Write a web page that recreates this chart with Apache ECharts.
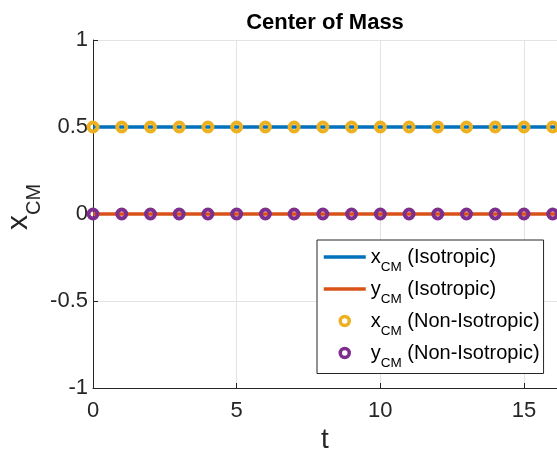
<!DOCTYPE html>
<html><head><meta charset="utf-8">
<script src="https://cdn.jsdelivr.net/npm/echarts@6/dist/echarts.min.js"></script>
<style>html,body{margin:0;padding:0;background:#fff}#c{width:557px;height:452px}</style>
</head><body><div id="c"></div>
<script>
// ---- data ----
const t      = [0,1,2,3,4,5,6,7,8,9,10,11,12,13,14,15,16,17];
const xIso   = [0.5,0.5,0.5,0.5,0.5,0.5,0.5,0.5,0.5,0.5,0.5,0.5,0.5,0.5,0.5,0.5,0.5,0.5];
const yIso   = [0,0,0,0,0,0,0,0,0,0,0,0,0,0,0,0,0,0];
const xNon   = [0.5,0.5,0.5,0.5,0.5,0.5,0.5,0.5,0.5,0.5,0.5,0.5,0.5,0.5,0.5,0.5,0.5,0.5];
const yNon   = [0,0,0,0,0,0,0,0,0,0,0,0,0,0,0,0,0,0];
const xTicks = [0,5,10,15];
const yTicks = [-1,-0.5,0,0.5,1];
const names  = ['x_CM (Isotropic)','y_CM (Isotropic)','x_CM (Non-Isotropic)','y_CM (Non-Isotropic)'];

const FONT = 'Liberation Sans, Arial, Helvetica, sans-serif';
const AX = '#262626';
const pairs = arr => t.map((v,i)=>[v, arr[i]]);

function legendFmt(name){
  const m = name.match(/^(\w)_CM(.*)$/);
  return '{n|' + m[1] + '}{s|CM}{n|' + m[2] + '}';
}
const hidden = {color:'rgba(0,0,0,0)', borderColor:'rgba(0,0,0,0)', borderWidth:0, opacity:0};

const chart = echarts.init(document.getElementById('c'), null, {renderer:'canvas'});
chart.setOption({
  animation:false,
  backgroundColor:'#fff',
  textStyle:{fontFamily:FONT},
  title:{
    text:'Center of Mass', left:320, top:7, textAlign:'center',
    textStyle:{fontFamily:FONT, fontSize:22, fontWeight:'bold', color:'#000'}
  },
  grid:{left:93, right:0, top:40, bottom:64, containLabel:false, outerBoundsMode:'none'},
  xAxis:{
    type:'value', min:0, max:16.15, interval:5,
    name:'t', nameLocation:'middle', nameGap:38, nameMoveOverlap:false,
    nameTextStyle:{fontFamily:FONT, fontSize:28, color:AX},
    axisLine:{show:true, onZero:false, lineStyle:{color:AX, width:1}},
    axisTick:{show:true, inside:true, length:5, lineStyle:{color:AX}},
    axisLabel:{fontFamily:FONT, fontSize:22, color:AX, margin:12, showMaxLabel:false,
      formatter:v => xTicks.indexOf(v) >= 0 ? String(v) : ''},
    splitLine:{show:true, lineStyle:{color:'#e3e3e3', width:1}}
  },
  yAxis:{
    type:'value', min:-1, max:1, interval:0.5,
    name:'{b|x}{s|CM}', nameLocation:'middle', nameGap:49, nameRotate:90, nameMoveOverlap:false,
    nameTextStyle:{fontFamily:FONT, color:AX, padding:[0,0,0,14],
      rich:{b:{fontFamily:FONT, fontSize:30, color:AX},
            s:{fontFamily:FONT, fontSize:20, color:AX, padding:[31,0,0,0]}}},
    axisLine:{show:true, onZero:false, lineStyle:{color:AX, width:1}},
    axisTick:{show:true, inside:true, length:5, lineStyle:{color:AX}},
    axisLabel:{fontFamily:FONT, fontSize:22, color:AX, margin:5,
      formatter:v => yTicks.indexOf(v) >= 0 ? String(v) : ''},
    splitLine:{show:true, lineStyle:{color:'#e3e3e3', width:1}}
  },
  legend:{
    orient:'vertical', left:317, top:240,
    itemWidth:42, itemHeight:9, itemGap:4.5,
    padding:[7,4,3,5],
    borderColor:AX, borderWidth:1, backgroundColor:'#fff',
    formatter:legendFmt,
    textStyle:{fontFamily:FONT, fontSize:20, color:'#000',
      rich:{n:{fontFamily:FONT, fontSize:20, color:'#000'},
            s:{fontFamily:FONT, fontSize:13.5, color:'#000', padding:[21,0,0,0]}}},
    data:[
      {name:names[0], lineStyle:{width:3.5}, itemStyle:hidden},
      {name:names[1], lineStyle:{width:3.5}, itemStyle:hidden},
      {name:names[2], icon:'circle', itemStyle:{color:'rgba(0,0,0,0)', borderColor:'#EDB120', borderWidth:3.5, opacity:1}},
      {name:names[3], icon:'circle', itemStyle:{color:'rgba(0,0,0,0)', borderColor:'#7E2F8E', borderWidth:3.5, opacity:1}}
    ]
  },
  series:[
    {name:names[0], type:'line', data:pairs(xIso), symbol:'none', showSymbol:false,
     lineStyle:{color:'#0072BD', width:3.5}, itemStyle:{color:'#0072BD'}, z:2},
    {name:names[1], type:'line', data:pairs(yIso), symbol:'none', showSymbol:false,
     lineStyle:{color:'#D95319', width:3.5}, itemStyle:{color:'#D95319'}, z:2},
    {name:names[2], type:'scatter', data:pairs(xNon), symbol:'circle', symbolSize:9,
     itemStyle:{color:'rgba(0,0,0,0)', borderColor:'#EDB120', borderWidth:4, opacity:1}, z:3},
    {name:names[3], type:'scatter', data:pairs(yNon), symbol:'circle', symbolSize:9,
     itemStyle:{color:'rgba(0,0,0,0)', borderColor:'#7E2F8E', borderWidth:4, opacity:1}, z:3}
  ]
});
</script></body></html>
